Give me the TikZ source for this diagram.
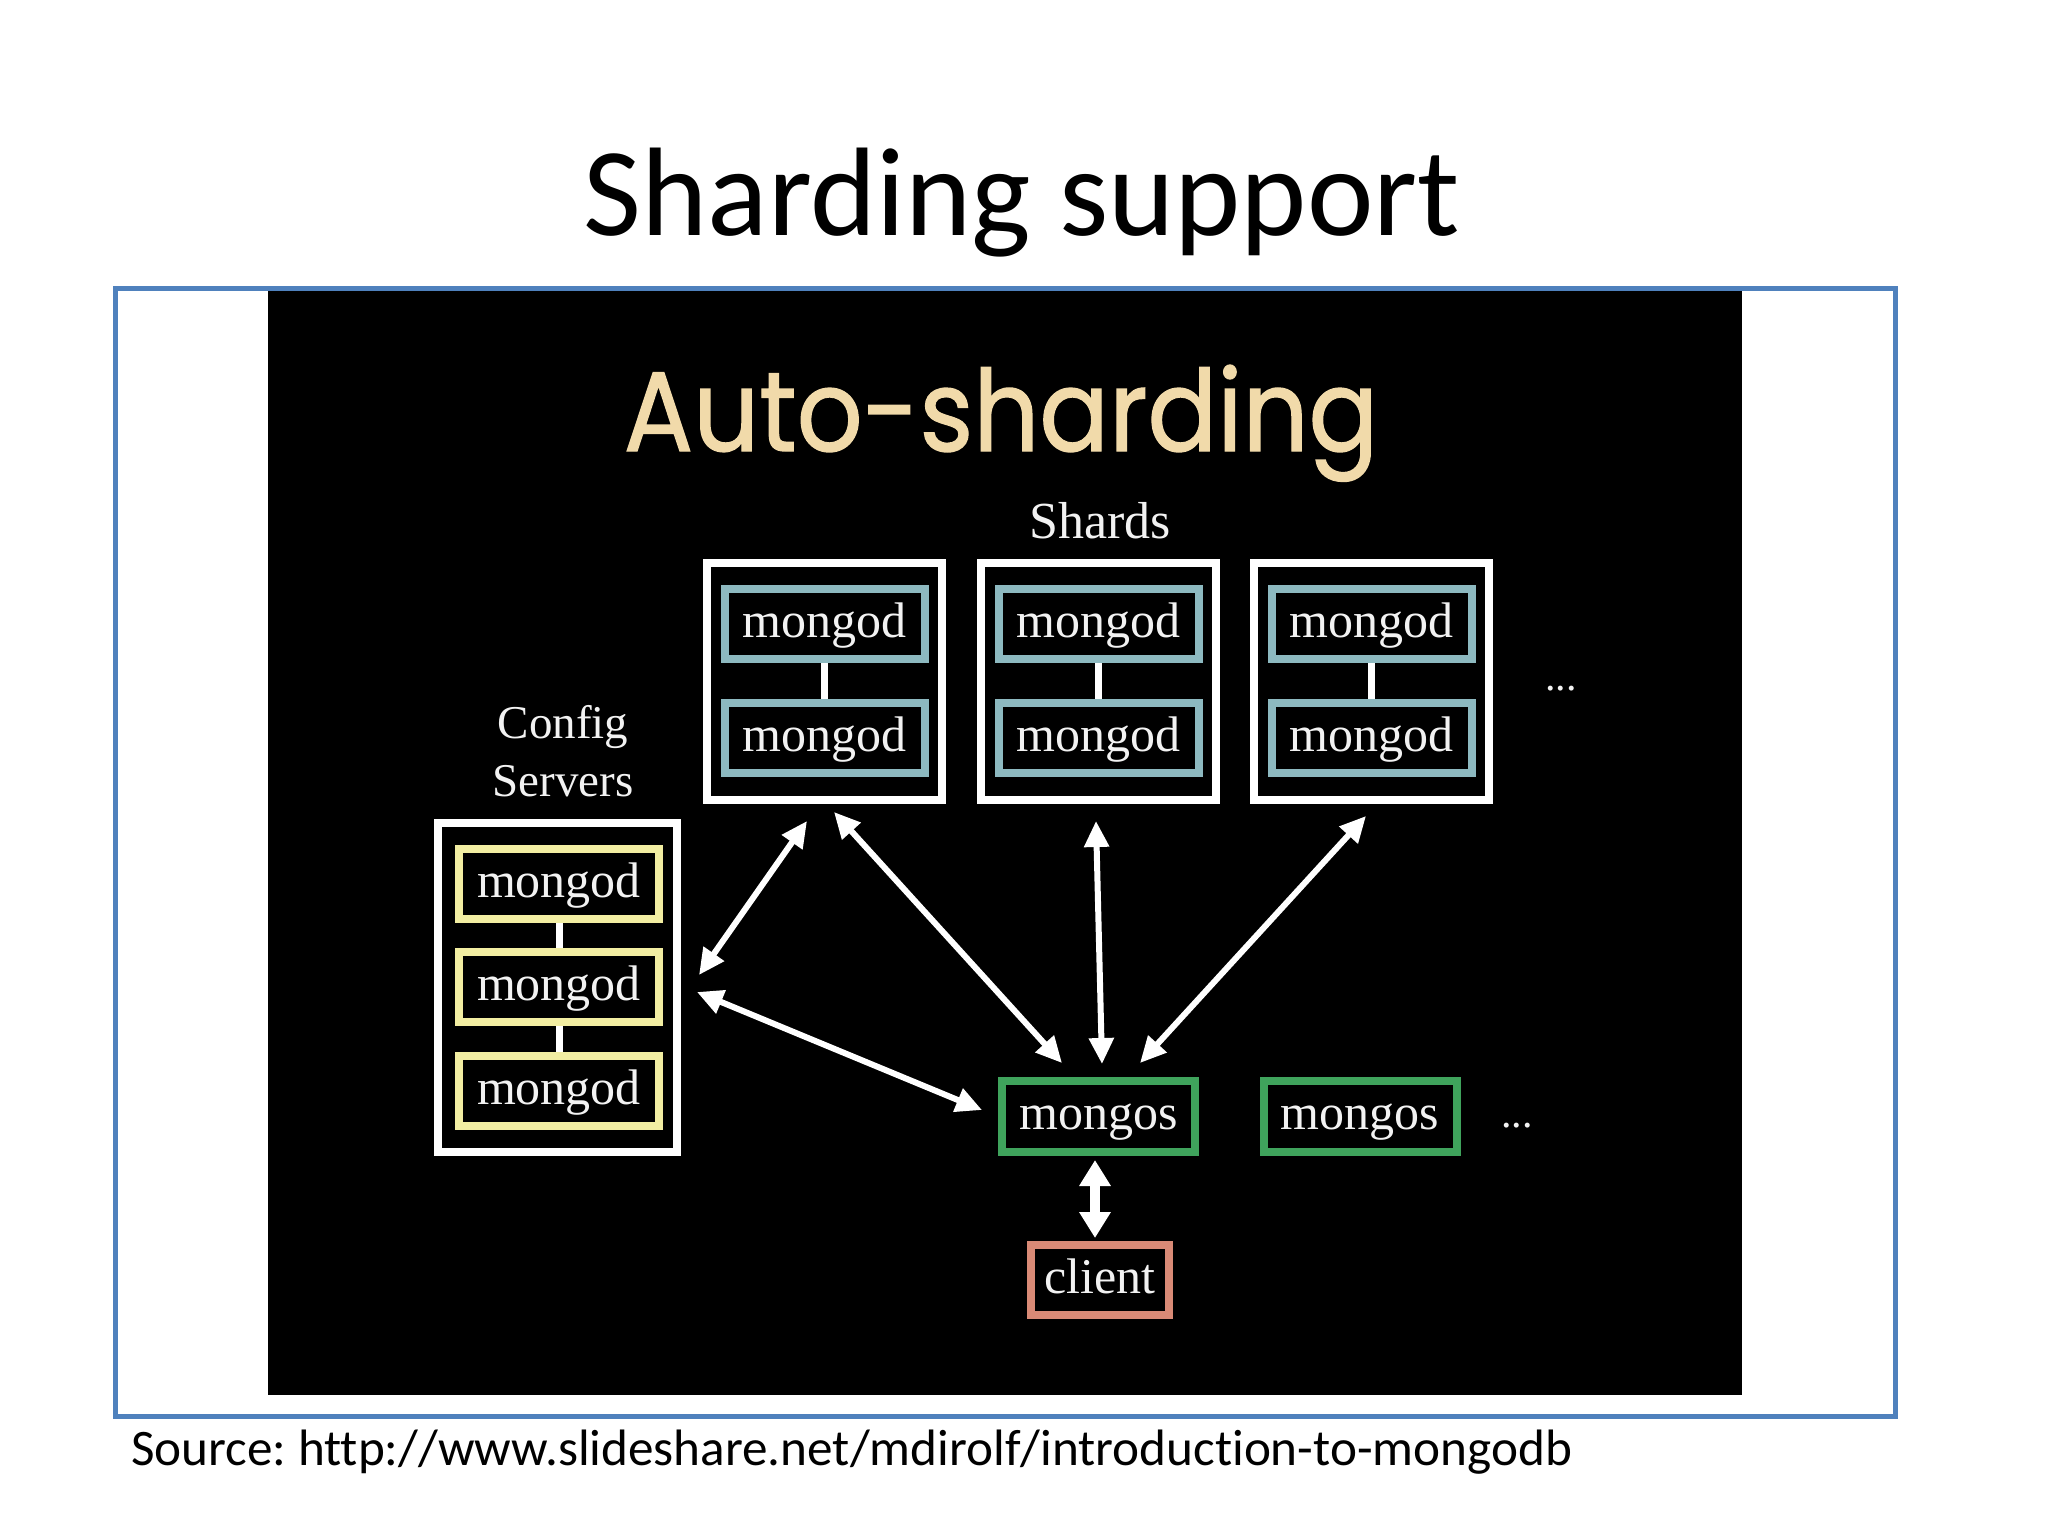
\documentclass[tikz,border=0pt]{standalone}
\usepackage{fontspec}
\usepackage{graphicx}
\newfontfamily\slidefont{Carlito}[Ligatures=NoCommon]
\newfontfamily\autofont{Poppins}[FakeBold=1.2]
\newfontfamily\serifb{Liberation Serif}
\usetikzlibrary{arrows.meta,calc}
\definecolor{frameblue}{HTML}{4F81BD}
\definecolor{tealc}{HTML}{8DB9C0}
\definecolor{yellowc}{HTML}{F2EEA2}
\definecolor{greenc}{HTML}{3FA35C}
\definecolor{salmonc}{HTML}{D98A76}
\definecolor{beige}{HTML}{F1DAAA}
\definecolor{txt}{HTML}{F2F2F2}
\begin{document}
\begin{tikzpicture}[x=1pt,y=-1pt,
  outerbox/.style={draw=white, line width=8pt, fill=black, inner sep=0pt},
  srv/.style={line width=8pt, fill=black, inner sep=0pt, text=txt,
    font=\serifb\fontsize{50}{54}\selectfont, minimum height=70pt,
    text height=34pt, text depth=8pt},
  shardd/.style={srv, draw=tealc, minimum width=200pt},
  cfgd/.style={srv, draw=yellowc, minimum width=200pt},
  router/.style={srv, draw=greenc, minimum width=193pt, minimum height=71pt},
  clientbox/.style={srv, draw=salmonc, minimum width=138pt},
  link/.style={draw=white, line width=7pt},
  dbl/.style={{Triangle[length=26pt,width=24pt]}-{Triangle[length=26pt,width=24pt]}, draw=white, fill=white, line width=6pt},
  dblthick/.style={{Triangle[length=26pt,width=30pt]}-{Triangle[length=26pt,width=30pt]}, draw=white, fill=white, line width=10pt},
  label/.style={text=txt, inner sep=0pt, anchor=base},
]
\useasboundingbox (0,0) rectangle (2048,1536);
\fill[white] (0,0) rectangle (2048,1536);

% slide title
\node[anchor=base, inner sep=0pt, font=\slidefont\fontsize{126}{130}\selectfont] (title) at (1022,235) {Sharding support};

% black picture
\fill[black] (268,290) rectangle (1742,1395);

% heading in picture
\node[anchor=base, inner sep=0pt, text=beige] (auto) at (1001,451)
  {\resizebox{754pt}{86pt}{\autofont Auto-sharding}};

\node[label, font=\serifb\fontsize{52}{56}\selectfont] (shardslbl) at (1100,538) {Shards};
\node[label, font=\serifb\fontsize{47}{50}\selectfont] (cfglbl1) at (563,738) {Config};
\node[label, font=\serifb\fontsize{47}{50}\selectfont] (cfglbl2) at (563,796) {Servers};

% shards
\foreach \i/\x in {1/824.5, 2/1098.5, 3/1371.5}{
  \node[outerbox, minimum width=235pt, minimum height=237pt] (sh\i) at (\x,681.5) {};
  \node[shardd] (sh\i a) at (\x,624) {mongod};
  \node[shardd] (sh\i b) at (\x,738) {mongod};
  \draw[link] (sh\i a.south) -- (sh\i b.north);
}
\node[label, font=\serifb\fontsize{42}{44}\selectfont] (dots1) at (1561,690) {...};

% config servers
\node[outerbox, minimum width=239pt, minimum height=329pt] (cfg) at (557.5,987.5) {};
\node[cfgd] (c1) at (559,884) {mongod};
\node[cfgd] (c2) at (559,987) {mongod};
\node[cfgd] (c3) at (559,1091) {mongod};
\draw[link] (c1.south) -- (c2.north);
\draw[link] (c2.south) -- (c3.north);

% routers
\node[router] (ms1) at (1098.5,1116.5) {mongos};
\node[router] (ms2) at (1360,1116.5) {mongos};
\node[label, font=\serifb\fontsize{42}{44}\selectfont] (dots2) at (1517,1127) {...};

% client
\node[clientbox] (cl) at (1100,1280) {client};

% arrows
\draw[dbl] ($(cfg.east)+(18,-12.5)$) -- ($(sh1.south)+(-17.5,17)$);
\draw[dbl] ($(cfg.east)+(16,4.5)$) -- ($(ms1.west)+(-16,-6.5)$);
\draw[dbl] ($(sh1.south)+(9.5,8)$) -- ($(ms1.north)+(-36.5,-14)$);
\draw[dbl] ($(sh2.south)+(-2.5,17)$) -- ($(ms1.north)+(3.5,-13)$);
\draw[dbl] ($(sh3.south)+(-5.5,12)$) -- ($(ms1.north)+(41.5,-14)$);
\draw[dblthick] ($(ms1.south)+(-3.5,4)$) -- ($(cl.north)+(-5,-3)$);

% blue frame
\draw[frameblue, line width=5pt] (115,288) rectangle (1895,1416);

% source
\node[anchor=base west, inner sep=0pt] (src) at (131,1465)
  {\resizebox{1441pt}{!}{\slidefont\frenchspacing Source: http://www.slideshare.net/mdirolf/introduction-to-mongodb}};
\end{tikzpicture}
\end{document}
